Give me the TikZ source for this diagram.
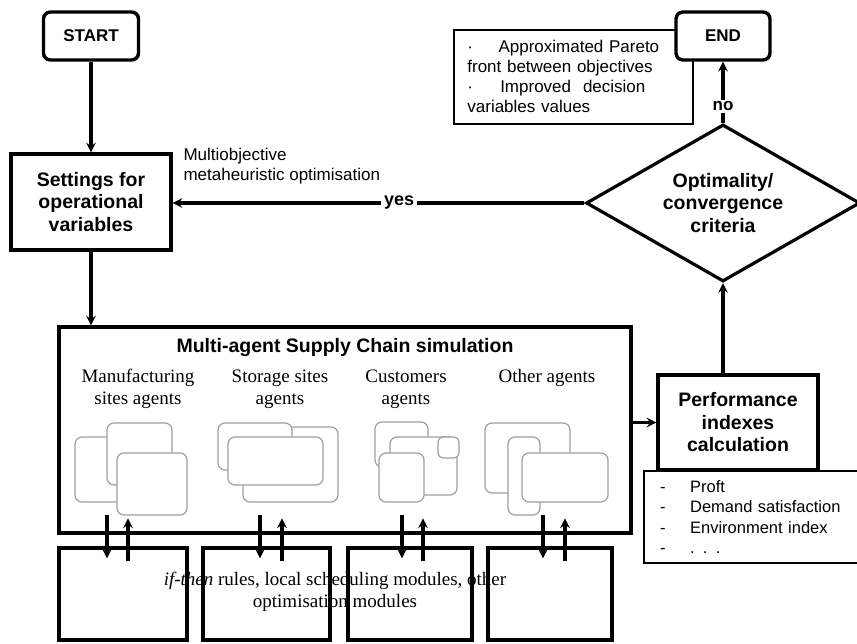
\documentclass[tikz,border=0pt]{standalone}
\usepackage{fontspec}
\setmainfont{Liberation Serif}
\setsansfont{Liberation Sans}
\usetikzlibrary{shapes.geometric}
\tikzset{>=stealth}
\tikzset{
  termbox/.style={draw, line width=3.4pt, rounded corners=7pt, fill=white, font=\sffamily\bfseries\fontsize{17}{20}\selectfont},
  procbox/.style={draw, line width=3.2pt, fill=white, align=center, font=\sffamily\bfseries\fontsize{19.5}{22.5}\selectfont},
  notebox/.style={draw, line width=1.8pt, fill=white, align=left, font=\sffamily\fontsize{17}{20}\selectfont},
  agent/.style={draw=gray!75, fill=white, line width=1.2pt, rounded corners=7pt},
  modbox/.style={draw, line width=3.2pt, minimum height=92pt},
  flow/.style={->, line width=3.2pt},
  serif/.style={font=\rmfamily\fontsize{19}{22}\selectfont, align=center}
}

\begin{document}
\begin{tikzpicture}[x=1pt,y=1pt]
\useasboundingbox (0,0) rectangle (857,-643);
\clip (0,0) rectangle (857,-643);
% start, settings
\node[termbox, minimum width=95pt, minimum height=48pt] (start) at (91,-36) {START};
\node[procbox, minimum width=160pt, minimum height=96pt] (set) at (91,-202) {Settings for\\operational\\variables};
\node[anchor=north west, align=left, font=\sffamily\fontsize{17}{20}\selectfont] (mo) at (180,-145) {Multiobjective\\metaheuristic optimisation};
% decision, result, end
\node[draw, diamond, aspect=1.75, line width=3.2pt, minimum width=274pt, minimum height=157pt, inner sep=0pt, align=center, font=\sffamily\bfseries\fontsize{19.5}{22.5}\selectfont] (dia) at (723,-203) {Optimality/\\convergence\\criteria};
\node[notebox, anchor=north west, minimum width=239pt, minimum height=94pt, text width=212pt] (out) at (453,-29) {·\hspace{1.5em}Approximated Pareto\\front between objectives\\·\hspace{1.6em}Improved\hspace{0.7em}decision\\variables values};
\node[termbox, minimum width=94pt, minimum height=48pt] (end) at (723,-36) {END};
% simulation
\node[draw, line width=3.2pt, minimum width=572pt, minimum height=206pt] (sim) at (345,-430) {};
\node[font=\sffamily\bfseries\fontsize{19.5}{22.5}\selectfont] (simt) at (345,-347) {Multi-agent Supply Chain simulation};
\node[serif, anchor=north] (manl) at (138,-366) {Manufacturing\\sites agents};
\node[serif, anchor=north] (stol) at (280,-366) {Storage sites\\agents};
\node[serif, anchor=north] (cusl) at (406,-366) {Customers\\agents};
\node[serif, anchor=north] (othl) at (547,-366) {Other agents};
% agent icons
\draw[agent] (75,-437) rectangle (140,-502);
\draw[agent] (107,-423) rectangle (172,-485);
\draw[agent] (117,-453) rectangle (187,-515);
\draw[agent] (243,-427) rectangle (338,-502);
\draw[agent] (218,-423) rectangle (292,-470);
\draw[agent] (228,-437) rectangle (323,-485);
\draw[agent] (375,-422) rectangle (428,-467);
\draw[agent] (390,-437) rectangle (457,-495);
\draw[agent, rounded corners=5pt] (438,-437) rectangle (459,-458);
\draw[agent] (379,-453) rectangle (424,-502);
\draw[agent] (485,-423) rectangle (570,-493);
\draw[agent] (508,-437) rectangle (540,-515);
\draw[agent] (522,-453) rectangle (608,-502);
% modules
\node[modbox, minimum width=128pt] (m1) at (123,-594) {};
\node[modbox, minimum width=127pt] (m2) at (266.5,-594) {};
\node[modbox, minimum width=124pt] (m3) at (410,-594) {};
\node[modbox, minimum width=124pt] (m4) at (550,-594) {};
\node[serif] (rules) at (335,-592) {\textit{if-then} rules, local scheduling modules, other\\optimisation modules};
\foreach \b/\d/\u in {m1/-16/5, m2/-6.5/15.5, m3/-8/13, m4/-7/15}{
  \draw[flow] ([xshift=\d pt,yshift=31pt]\b.north) -- ([xshift=\d pt,yshift=-12pt]\b.north);
  \draw[flow] ([xshift=\u pt,yshift=-15pt]\b.north) -- ([xshift=\u pt,yshift=28pt]\b.north);
}
% performance
\node[procbox, minimum width=160pt, minimum height=95pt] (perf) at (738,-422.5) {Performance\\indexes\\calculation};
\node[draw, line width=2.2pt, fill=white, anchor=north west, minimum height=92pt, inner xsep=16pt, text width=200pt, align=left, font=\sffamily\fontsize{16.5}{20.5}\selectfont] (met) at (643,-470) {\makebox[30pt][l]{-}Proft\\\makebox[30pt][l]{-}Demand satisfaction\\\makebox[30pt][l]{-}Environment index\\\makebox[30pt][l]{-}. . .};
% connectors
\draw[flow] (start) -- (set);
\draw[flow] (set) -- (set.south |- sim.north);
\draw[flow] (dia.west) -- node[pos=0.45, fill=white, inner sep=3pt, font=\sffamily\bfseries\fontsize{18}{20}\selectfont] {yes} (dia.west -| set.east);
\draw[flow] (sim.east |- perf.west) -- (perf.west);
\draw[flow] (perf.north -| dia.south) -- (dia.south);
\draw[flow] (dia.north) -- node[pos=0.27, fill=white, inner sep=2pt, font=\sffamily\bfseries\fontsize{17}{19}\selectfont] {no} (end.south);
\end{tikzpicture}
\end{document}
